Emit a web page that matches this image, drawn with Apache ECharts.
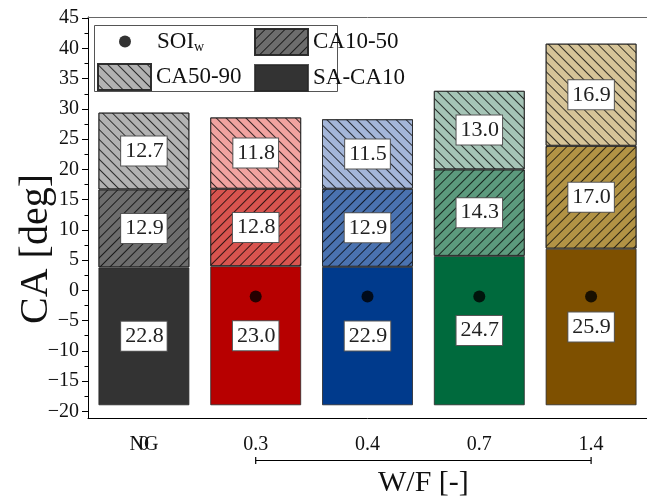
<!DOCTYPE html>
<html>
<head>
<meta charset="utf-8">
<script src="https://cdn.jsdelivr.net/npm/echarts@6/dist/echarts.min.js"></script>
<style>
html,body{margin:0;padding:0;background:#fff;}
#c{width:647px;height:498px;}
</style>
</head>
<body>
<div id="c"></div>
<script>
// ---- data ----
const categories = ['NG', '0.3', '0.4', '0.7', '1.4'];
const wfLabels = ['0', '0.3', '0.4', '0.7', '1.4'];
const saCa10 = [22.8, 23.0, 22.9, 24.7, 25.9];
const ca10to50 = [12.9, 12.8, 12.9, 14.3, 17.0];
const ca50to90 = [12.7, 11.8, 11.5, 13.0, 16.9];
const soiW = [null, -1, -1, -1, -1];
const barBase = [-19, -19, -19, -19, -19];
const yTicks = [-20, -15, -10, -5, 0, 5, 10, 15, 20, 25, 30, 35, 40, 45];

// ---- style ----
const FONT = 'Liberation Serif';
const colBottom = ['#333333', '#b70000', '#003a8c', '#006a3d', '#7e5000'];
const colMid = ['#6d6d6d', '#d8544f', '#4a72b0', '#5c9a7d', '#b29345'];
const colTop = ['#b2b2b2', '#f1a3a0', '#a4b6d9', '#a5c4b6', '#d6c498'];
const hatchUp = { symbol: 'rect', symbolSize: 1, dashArrayX: [[1, 0]], dashArrayY: [1, 5.5], rotation: -Math.PI / 4, color: 'rgba(0,0,0,0.75)' };
const hatchDown = { symbol: 'rect', symbolSize: 1, dashArrayX: [[1, 0]], dashArrayY: [1, 5.5], rotation: Math.PI / 4, color: 'rgba(0,0,0,0.75)' };
const minorY = yTicks.slice(0, -1).map(v => v + 2.5);

const chart = echarts.init(document.getElementById('c'), null, { renderer: 'canvas' });

const labelStyle = {
  show: true, position: 'inside', formatter: p => p.value.toFixed(1),
  backgroundColor: '#fff', borderColor: '#555', borderWidth: 1,
  padding: [4, 3, 3, 4], fontSize: 22, fontFamily: FONT, color: '#222'
};
const BW = 91;
function segItems(vals, cols, decal) {
  return vals.map((v, i) => ({ value: v, itemStyle: { color: cols[i], decal: decal } }));
}
const legText = { fontSize: 23, fontFamily: FONT, color: '#111', lineHeight: 27 };

const option = {
  animation: false,
  grid: { left: 88, right: -4, top: 17, bottom: 80, containLabel: false },
  xAxis: [
    {
      type: 'category', data: categories, position: 'bottom',
      axisLine: { onZero: false, lineStyle: { color: '#000', width: 1 } },
      axisTick: { alignWithLabel: true, length: 7, lineStyle: { color: '#000' } },
      axisLabel: { fontSize: 20, fontFamily: FONT, color: '#111', margin: 17 }
    },
    {
      type: 'category', data: categories, position: 'bottom',
      axisLine: { show: false, onZero: false },
      axisTick: { alignWithLabel: false, length: 4, lineStyle: { color: '#000' } },
      axisLabel: { fontSize: 20, fontFamily: FONT, color: '#111', margin: 17,
        formatter: (v, i) => (wfLabels[i] !== categories[i] ? wfLabels[i] : '') }
    },
    {
      type: 'category', data: categories, position: 'top',
      axisLine: { onZero: false, lineStyle: { color: '#666', width: 1 } },
      axisTick: { show: false }, axisLabel: { show: false }
    }
  ],
  yAxis: [
    {
      type: 'value', min: -21.1, max: 45.2, position: 'left',
      axisLine: { show: true, onZero: false, lineStyle: { color: '#000', width: 1 } },
      axisTick: { show: true, length: 6, customValues: yTicks, lineStyle: { color: '#000' } },
      axisLabel: { customValues: yTicks, fontSize: 20, fontFamily: FONT, color: '#111', margin: 9,
        formatter: v => (v < 0 ? '\u2212' + Math.abs(v) : String(v)) },
      splitLine: { show: false }
    },
    {
      type: 'value', min: -21.1, max: 45.2, position: 'left',
      axisLine: { show: false, onZero: false },
      axisTick: { show: true, length: 3.5, customValues: minorY, lineStyle: { color: '#000' } },
      axisLabel: { show: false }, splitLine: { show: false }
    }
  ],
  legend: [
    { data: ['SOI_w'], left: 119, top: 28, padding: 0, orient: 'vertical', itemWidth: 12, itemHeight: 12,
      textStyle: Object.assign({}, legText, {
        rich: { a: { fontSize: 23, fontFamily: FONT, color: '#111', lineHeight: 27, padding: [0, 0, 0, 21] },
                b: { fontSize: 14, fontFamily: FONT, color: '#111', lineHeight: 27, padding: [11, 0, 0, 0] } } }),
      formatter: () => '{a|SOI}{b|w}' },
    { data: ['CA50-90'], left: 97, top: 63, padding: 0, orient: 'vertical', icon: 'rect', itemWidth: 53, itemHeight: 26,
      textStyle: legText },
    { data: ['CA10-50', 'SA-CA10'], left: 254, top: 28, padding: 0, orient: 'vertical', icon: 'rect', itemWidth: 53, itemHeight: 26, itemGap: 8,
      textStyle: legText }
  ],
  series: [
    { name: 'base', type: 'bar', stack: 'a', stackStrategy: 'all', data: barBase, barWidth: BW,
      itemStyle: { color: 'rgba(0,0,0,0)' }, silent: true, z: 1 },
    { name: 'SA-CA10', type: 'bar', stack: 'a', stackStrategy: 'all', barWidth: BW,
      itemStyle: { color: colBottom[0], borderColor: 'rgba(40,40,40,0.8)', borderWidth: 1 },
      data: segItems(saCa10, colBottom, null), label: labelStyle, z: 2 },
    { name: 'CA10-50', type: 'bar', stack: 'a', stackStrategy: 'all', barWidth: BW,
      itemStyle: { color: colMid[0], decal: hatchUp, borderColor: 'rgba(40,40,40,0.8)', borderWidth: 1 },
      data: segItems(ca10to50, colMid, hatchUp), label: labelStyle, z: 2 },
    { name: 'CA50-90', type: 'bar', stack: 'a', stackStrategy: 'all', barWidth: BW,
      itemStyle: { color: colTop[0], decal: hatchDown, borderColor: 'rgba(40,40,40,0.8)', borderWidth: 1 },
      data: segItems(ca50to90, colTop, hatchDown), label: labelStyle, z: 2 },
    { name: 'SOI_w', type: 'scatter', data: soiW, symbol: 'circle', symbolSize: 12,
      itemStyle: { color: '#000' }, z: 5 }
  ]
};
chart.setOption(option);

// annotation: legend frame, W/F bracket under the water-fuel categories, and axis titles
const xa = chart.convertToPixel({ xAxisIndex: 0 }, categories[1]);
const xb = chart.convertToPixel({ xAxisIndex: 0 }, categories[categories.length - 1]);
const yBr = 460;
chart.setOption({
  graphic: [
    { type: 'rect', shape: { x: 94.5, y: 25.5, width: 243, height: 66 }, style: { fill: '#fff', stroke: '#555', lineWidth: 1 }, z: -1, zlevel: 0 },
    { type: 'line', shape: { x1: xa, y1: yBr + 0.5, x2: xb, y2: yBr + 0.5 }, style: { stroke: '#000', lineWidth: 1.2 } },
    { type: 'line', shape: { x1: xa, y1: yBr - 3, x2: xa, y2: yBr + 4 }, style: { stroke: '#000', lineWidth: 1.2 } },
    { type: 'line', shape: { x1: xb, y1: yBr - 3, x2: xb, y2: yBr + 4 }, style: { stroke: '#000', lineWidth: 1.2 } },
    { type: 'text', x: (xa + xb) / 2, y: 483, style: { text: 'W/F [-]', font: '30px "Liberation Serif"', fill: '#111', align: 'center', verticalAlign: 'middle' } },
    { type: 'text', x: 36, y: 249, rotation: Math.PI / 2, style: { text: 'CA [deg]', font: '40px "Liberation Serif"', fill: '#111', align: 'center', verticalAlign: 'middle' } }
  ]
});
</script>
</body>
</html>
